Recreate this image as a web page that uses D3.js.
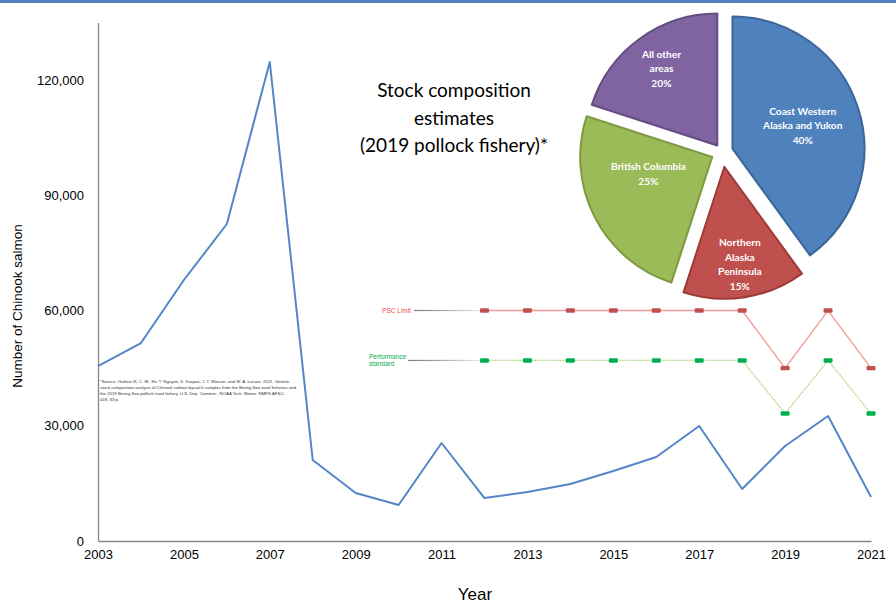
<!DOCTYPE html>
<html><head><meta charset="utf-8">
<script src="https://cdn.jsdelivr.net/npm/d3@7"></script>
<style>body{margin:0;background:#fff}svg{display:block}</style>
</head><body>
<svg id="c" width="896" height="603"></svg>
<script>
// ---- data ----
const years = [2003,2004,2005,2006,2007,2008,2009,2010,2011,2012,2013,2014,2015,2016,2017,2018,2019,2020,2021];
const bycatch = [45550,51540,67940,82520,124690,21085,12495,9370,25510,11190,12755,14840,18220,21865,29935,13535,24730,32540,11450];
const limitYears = [2012,2013,2014,2015,2016,2017,2018,2019,2020,2021];
const pscLimit = [60000,60000,60000,60000,60000,60000,60000,45000,60000,45000];
const perfStandard = [47000,47000,47000,47000,47000,47000,47000,33200,47000,33200];
const xTickLabels = [2003,2005,2007,2009,2011,2013,2015,2017,2019,2021];
const yTickLabels = [0,30000,60000,90000,120000];
const stockNames = [["Coast Western","Alaska and Yukon"],["Northern","Alaska","Peninsula"],["British Columbia"],["All other","areas"]];
const stockShares = [40,15,25,20];
const stockColors = ["#4f81bd","#c0504d","#9bbb59","#8064a2"];
const stockBorders = ["#3c6699","#9c3b38","#7c9a42","#634d82"];
const titleLines = ["Stock composition","estimates","(2019 pollock fishery)*"];
const footnoteLines = [
 "*Source: Guthrie III, C. M., Hv. T. Nguyen, K. Karpan, J. T. Watson, and W. A. Larson. 2021. Genetic",
 "stock composition analysis of Chinook salmon bycatch samples from the Bering Sea trawl fisheries and",
 "the 2019 Bering Sea pollock trawl fishery. U.S. Dep. Commer., NOAA Tech. Memo. NMFS-AFSC-",
 "418, 33 p."
];

// ---- layout ----
const svg = d3.select("#c");
const W = 896, H = 603;
const x = d3.scaleLinear().domain([2003,2021]).range([98,871]);
const y = d3.scaleLinear().domain([0,135000]).range([541,22.4]);

svg.append("rect").attr("x",0).attr("y",0).attr("width",W).attr("height",3).attr("fill","#4f81bd");

// axes
const xAxis = d3.axisBottom(x).tickValues(xTickLabels).tickFormat(d3.format("d")).tickSize(0).tickPadding(9);
const gx = svg.append("g").attr("transform","translate(0,541)").call(xAxis);
gx.select(".domain").attr("stroke","#868686").attr("stroke-width",1.3);
gx.selectAll("text").attr("font-family","Arial, Liberation Sans, sans-serif").attr("font-size",13).attr("fill","#000");

const yAxis = d3.axisLeft(y).tickValues(yTickLabels).tickFormat(d3.format(",")).tickSize(0).tickPadding(14);
const gy = svg.append("g").attr("transform","translate(98,0)").call(yAxis);
gy.select(".domain").attr("stroke","#868686").attr("stroke-width",1.3);
gy.selectAll("text").attr("font-family","Arial, Liberation Sans, sans-serif").attr("font-size",13).attr("fill","#000");

svg.append("text").attr("transform","translate(22,306) rotate(-90)").attr("text-anchor","middle")
  .attr("font-family","Arial, Liberation Sans, sans-serif").attr("font-size",13.5).text("Number of Chinook salmon");
svg.append("text").attr("x",475).attr("y",600).attr("text-anchor","middle")
  .attr("font-family","Arial, Liberation Sans, sans-serif").attr("font-size",17).text("Year");

// bycatch line
const line = d3.line().x((d,i)=>x(years[i])).y(d=>y(d));
svg.append("path").datum(bycatch).attr("d",line).attr("fill","none").attr("stroke","#5585c8").attr("stroke-width",2).attr("stroke-linejoin","round");

// PSC limit & performance standard
const line2 = d3.line().x((d,i)=>x(limitYears[i])).y(d=>y(d));
svg.append("path").datum(pscLimit).attr("d",line2).attr("fill","none").attr("stroke","#f19a98").attr("stroke-width",1.3);
svg.append("path").datum(perfStandard).attr("d",line2).attr("fill","none").attr("stroke","#a9d47a").attr("stroke-width",1.3).attr("stroke-dasharray","1.5,1");
svg.selectAll(".pm").data(pscLimit).enter().append("rect")
  .attr("x",(d,i)=>x(limitYears[i])-4.5).attr("y",d=>y(d)-2.2).attr("width",9).attr("height",4.4).attr("rx",1.2)
  .attr("fill","#c0504d");
svg.selectAll(".sm").data(perfStandard).enter().append("rect")
  .attr("x",(d,i)=>x(limitYears[i])-4.5).attr("y",d=>y(d)-2.2).attr("width",9).attr("height",4.4).attr("rx",1.2)
  .attr("fill","#00b050");

// leader lines
const defs = svg.append("defs");
const gr = defs.append("linearGradient").attr("id","lead").attr("x1","0").attr("x2","1").attr("y1","0").attr("y2","0");
gr.append("stop").attr("offset","0").attr("stop-color","#7a7a7a");
gr.append("stop").attr("offset","1").attr("stop-color","#e6e6e6");
svg.append("rect").attr("x",414).attr("y",y(pscLimit[0])-0.6).attr("width",x(limitYears[0])-4.5-414).attr("height",1.2).attr("fill","url(#lead)");
svg.append("rect").attr("x",408).attr("y",y(perfStandard[0])-0.6).attr("width",x(limitYears[0])-4.5-408).attr("height",1.2).attr("fill","url(#lead)");
svg.append("text").attr("x",411).attr("y",y(pscLimit[0])+2.3).attr("text-anchor","end")
  .attr("font-family","Arial, Liberation Sans, sans-serif").attr("font-size",6.5).attr("fill","#f04848").text("PSC Limit");
const ps = svg.append("text").attr("font-family","Arial, Liberation Sans, sans-serif").attr("font-size",6.5).attr("fill","#00b050");
ps.append("tspan").attr("x",369).attr("y",y(perfStandard[0])-1.5).text("Performance");
ps.append("tspan").attr("x",369).attr("y",y(perfStandard[0])+5.5).text("standard");

// footnote
svg.append("g").selectAll("text").data(footnoteLines).enter().append("text")
  .attr("x",100).attr("y",(d,i)=>383+i*5.9).attr("font-family","Arial, Liberation Sans, sans-serif")
  .attr("font-size",4.3).attr("fill","#333").text(d=>d);

// title
svg.append("g").selectAll("text").data(titleLines).enter().append("text")
  .attr("x",454).attr("y",(d,i)=>97+i*27.5).attr("text-anchor","middle")
  .attr("font-family","Lato, 'Open Sans', sans-serif").attr("font-size",19).attr("fill","#000").text(d=>d);

// pie
const cx = 722, cy = 152, R = 132;
const explode = [11,15,11,8];
const labelLayout = [[0.56,72],[0.75,171],[0.5,255],[0.72,324]];
const arcs = d3.pie().sort(null).value(d=>d)(stockShares);
const arc = d3.arc().innerRadius(0).outerRadius(R);
const pg = svg.append("g").attr("transform",`translate(${cx},${cy})`);
arcs.forEach((a,i)=>{
  const mid = (a.startAngle+a.endAngle)/2;
  const ox = Math.sin(mid)*explode[i], oy = -Math.cos(mid)*explode[i];
  const g = pg.append("g").attr("transform",`translate(${ox},${oy})`);
  g.append("path").attr("d",arc(a)).attr("fill",stockColors[i]).attr("stroke",stockBorders[i]).attr("stroke-width",2).attr("stroke-linejoin","round");
  const la = labelLayout[i][1]*Math.PI/180, lr = labelLayout[i][0]*R;
  const lx = Math.sin(la)*lr, ly = -Math.cos(la)*lr;
  const lines = stockNames[i].concat([stockShares[i]+"%"]);
  const n = lines.length;
  const t = g.append("text").attr("text-anchor","middle").attr("font-family","Lato, 'Open Sans', sans-serif")
    .attr("font-weight","bold").attr("font-size",10.2).attr("fill","#fff");
  lines.forEach((s,j)=>{
    t.append("tspan").attr("x",lx).attr("y",ly+(j-(n-1)/2)*14.5+3.6).text(s);
  });
});
</script>
</body></html>
